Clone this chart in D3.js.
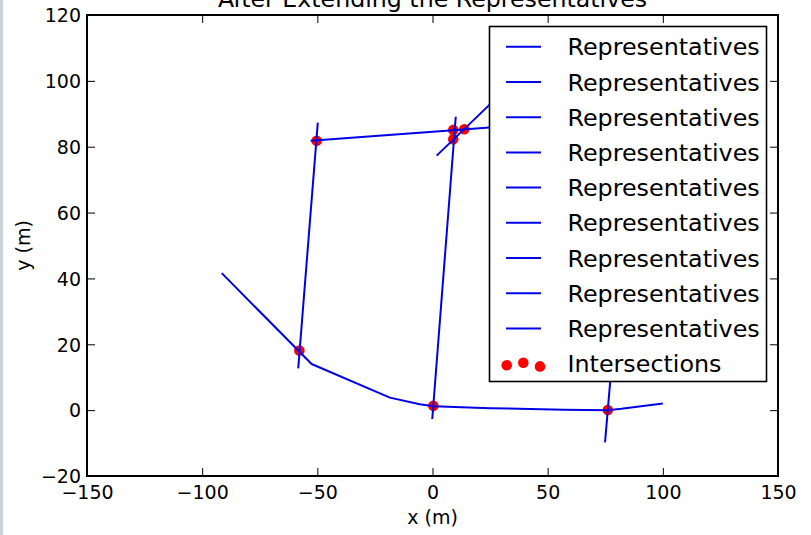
<!DOCTYPE html>
<html>
<head>
<meta charset="utf-8">
<script src="https://cdn.jsdelivr.net/npm/d3@7"></script>
<style>
  html, body { margin: 0; padding: 0; background: #fff; }
  svg { display: block; font-family: "DejaVu Sans", sans-serif; }
</style>
</head>
<body>
<svg id="chart" width="811" height="535"></svg>
<script>
// ---- data ----
const titleText = "After Extending the Representatives";
const xLabel = "x (m)";
const yLabel = "y (m)";
const xTicks = [-150, -100, -50, 0, 50, 100, 150];
const yTicks = [-20, 0, 20, 40, 60, 80, 100, 120];

// representative polylines [x, y]
const repBottom   = [[-91.5, 41.6], [-52.5, 14.0], [-18.5, 3.8], [-5.5, 1.8], [0.5, 1.2], [25, 0.6], [57, 0.1], [76, 0.0], [82, 0.4], [100, 2.0]];
const repLeftV    = [[-58.3, 12.7], [-49.8, 87.3]];
const repTop      = [[-52.9, 81.8], [9.0, 85.0], [24.7, 85.8], [45, 86.6]];
const repMidV     = [[-0.1, -2.7], [10.1, 89.1]];
const repDiag     = [[1.8, 77.3], [24.7, 92.7], [40, 103]];
const repRightV   = [[74.9, -9.8], [79.5, 28]];
const repHidden1  = [[60, 40], [95, 45]];
const repHidden2  = [[70, 60], [110, 65]];
const repHidden3  = [[80, 90], [120, 95]];
const representatives = [repBottom, repLeftV, repTop, repMidV, repDiag, repRightV, repHidden1, repHidden2, repHidden3];
const repLabels = ["Representatives", "Representatives", "Representatives", "Representatives", "Representatives",
                   "Representatives", "Representatives", "Representatives", "Representatives"];

// intersections
const intersectX = [-50.3, 9.0, 13.8, 9.0, -57.8, 0.35, 76.1];
const intersectY = [81.8, 85.1, 85.3, 82.3, 18.1, 1.3, 0.05];
const intersectLabel = "Intersections";

// ---- layout ----
const svg = d3.select("#chart");
const L = 87, R = 778, T = 15, B = 476;
const x = d3.scaleLinear().domain([-150, 150]).range([L, R]);
const y = d3.scaleLinear().domain([-20, 120]).range([B, T]);
const blue = "#0000e6";
const red = "#ff0000";
const lw = 2;

// faint left page border
svg.append("rect").attr("x", 0).attr("y", 0).attr("width", 3).attr("height", 535).attr("fill", "#c9d2db");

// plot area
svg.append("rect").attr("x", L).attr("y", T).attr("width", R - L).attr("height", B - T).attr("fill", "#fff");

const clip = svg.append("clipPath").attr("id", "clip").append("rect")
  .attr("x", L).attr("y", T).attr("width", R - L).attr("height", B - T);
const plot = svg.append("g").attr("clip-path", "url(#clip)");

// intersections (under lines)
plot.selectAll("circle.inter").data(intersectX.map((d, i) => [d, intersectY[i]]))
  .enter().append("circle").attr("class", "inter")
  .attr("cx", d => x(d[0])).attr("cy", d => y(d[1])).attr("r", 5.3).attr("fill", red);

const line = d3.line().x(d => x(d[0])).y(d => y(d[1]));
plot.selectAll("path.rep").data(representatives).enter().append("path").attr("class", "rep")
  .attr("d", line).attr("fill", "none").attr("stroke", blue).attr("stroke-width", lw)
  .attr("stroke-linejoin", "round");

// axes (ticks inward on all four sides)
const tl = 8;
const axB = svg.append("g").attr("transform", `translate(0,${B})`)
  .call(d3.axisBottom(x).tickValues(xTicks).tickSizeInner(-tl).tickSizeOuter(0).tickPadding(10).tickFormat(d3.format("")));
const axT = svg.append("g").attr("transform", `translate(0,${T})`)
  .call(d3.axisTop(x).tickValues(xTicks).tickSizeInner(-tl).tickSizeOuter(0).tickFormat(""));
const axL = svg.append("g").attr("transform", `translate(${L},0)`)
  .call(d3.axisLeft(y).tickValues(yTicks).tickSizeInner(-tl).tickSizeOuter(0).tickPadding(6).tickFormat(d3.format("")));
const axR = svg.append("g").attr("transform", `translate(${R},0)`)
  .call(d3.axisRight(y).tickValues(yTicks).tickSizeInner(-tl).tickSizeOuter(0).tickFormat(""));
[axB, axT, axL, axR].forEach(a => {
  a.select(".domain").remove();
  a.selectAll(".tick line").attr("stroke", "#000").attr("stroke-width", 1);
  a.selectAll(".tick text").attr("fill", "#000").attr("font-size", 19).attr("font-family", "DejaVu Sans");
});
axB.selectAll(".tick text").attr("dy", null).attr("y", 23).attr("dominant-baseline", null);
axL.selectAll(".tick text").attr("dy", "0.36em").attr("x", -6);

// frame
svg.append("rect").attr("x", L).attr("y", T).attr("width", R - L).attr("height", B - T)
  .attr("fill", "none").attr("stroke", "#000").attr("stroke-width", 2);

// title and labels
svg.append("text").attr("x", (L + R) / 2).attr("y", 6.5).attr("text-anchor", "middle")
  .attr("font-size", 23.7).attr("fill", "#000").text(titleText);
svg.append("text").attr("x", (L + R) / 2).attr("y", 524).attr("text-anchor", "middle")
  .attr("font-size", 19).attr("fill", "#000").text(xLabel);
svg.append("text").attr("transform", `translate(30,${(T + B) / 2}) rotate(-90)`).attr("text-anchor", "middle")
  .attr("font-size", 19).attr("fill", "#000").text(yLabel);

// legend
const lg = svg.append("g");
const lgX = 489.5, lgY = 26.5, lgW = 277, lgH = 355;
lg.append("rect").attr("x", lgX).attr("y", lgY).attr("width", lgW).attr("height", lgH)
  .attr("fill", "#fff").attr("stroke", "#000").attr("stroke-width", 1.6);
const rowY0 = 46.8, rowDY = 35.2;
repLabels.forEach((lab, i) => {
  const cy = rowY0 + i * rowDY;
  lg.append("line").attr("x1", 506).attr("x2", 541).attr("y1", cy).attr("y2", cy)
    .attr("stroke", blue).attr("stroke-width", lw);
  lg.append("text").attr("x", 567.5).attr("y", cy).attr("dy", "0.36em").attr("font-size", 23.8)
    .attr("fill", "#000").text(lab);
});
const interRow = rowY0 + repLabels.length * rowDY;
const legendDotDX = [506.7, 523.3, 540];
const legendDotDY = [1.6, -0.8, 2.8];
legendDotDX.forEach((dx, i) => {
  lg.append("circle").attr("cx", dx).attr("cy", interRow + legendDotDY[i]).attr("r", 5.3).attr("fill", red);
});
lg.append("text").attr("x", 567.5).attr("y", interRow).attr("dy", "0.36em").attr("font-size", 23.8)
  .attr("fill", "#000").text(intersectLabel);
</script>
</body>
</html>
